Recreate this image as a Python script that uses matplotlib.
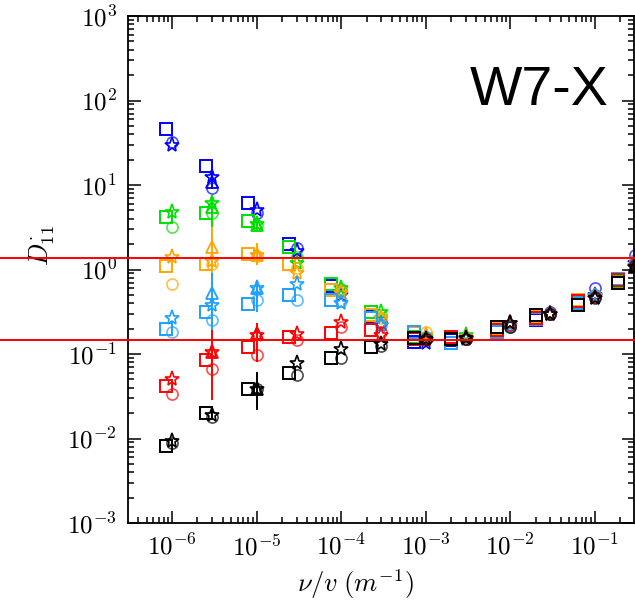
import math
import matplotlib
matplotlib.use("Agg")
from matplotlib import pyplot as plt
from matplotlib import transforms
from matplotlib.ticker import FuncFormatter, FixedLocator

plt.rcParams['mathtext.fontset'] = 'cm'

# collisionality grid (circles, stars, triangles) and shifted grid of the squares
nu = [1e-6, 3e-6, 1e-5, 3e-5, 1e-4, 3e-4, 1e-3, 3e-3, 1e-2, 3e-2, 1e-1, 3e-1]
nu_sq = [8.5e-7, 2.5e-6, 8e-6, 2.4e-5, 7.6e-5, 2.26e-4, 7.2e-4, 2e-3, 7e-3, 2e-2, 6.3e-2, 0.19]

series = ["blue", "green", "orange", "lightblue", "red", "black"]
colors = {"blue": "#0000ff", "green": "#00e000", "orange": "#ffa500",
          "lightblue": "#1ea0ff", "red": "#ff0000", "black": "#000000"}

sq = {
    "blue":      [46, 16.8, 6.1, 2.0, 0.63, 0.28, 0.14, 0.145, 0.18, 0.25, 0.40, 0.75],
    "green":     [4.2, 4.7, 3.75, 1.85, 0.68, 0.31, 0.16, 0.15, 0.19, 0.27, 0.40, 0.74],
    "orange":    [1.1, 1.16, 1.52, 1.17, 0.57, 0.29, 0.175, 0.15, 0.20, 0.28, 0.43, 0.78],
    "lightblue": [0.198, 0.31, 0.39, 0.50, 0.43, 0.27, 0.18, 0.135, 0.18, 0.26, 0.40, 0.78],
    "red":       [0.042, 0.085, 0.121, 0.159, 0.177, 0.19, 0.15, 0.16, 0.19, 0.27, 0.42, 0.76],
    "black":     [0.0081, 0.020, 0.0386, 0.0596, 0.090, 0.121, 0.155, 0.15, 0.21, 0.29, 0.38, 0.70],
}
circ = {
    "blue":      [32, 9.2, 4.7, 1.8, 0.55, 0.24, 0.15, 0.15, 0.22, 0.31, 0.60, 1.49],
    "green":     [3.2, 4.7, 3.4, 1.4, 0.58, 0.29, 0.16, 0.15, 0.21, 0.30, 0.50, 1.2],
    "orange":    [0.67, 1.16, 1.45, 1.04, 0.55, 0.27, 0.18, 0.155, 0.21, 0.30, 0.50, 1.3],
    "lightblue": [0.18, 0.25, 0.43, 0.435, 0.42, 0.22, 0.16, 0.15, 0.21, 0.30, 0.50, 1.3],
    "red":       [0.034, 0.066, 0.097, 0.146, 0.21, 0.18, 0.15, 0.15, 0.22, 0.30, 0.47, 1.15],
    "black":     [0.0089, 0.018, 0.039, 0.057, 0.09, 0.125, 0.15, 0.15, 0.21, 0.30, 0.46, 1.1],
}
star = {
    "blue":      [30, 12.4, 5.1, 1.67, 0.50, 0.22, 0.135, 0.15, 0.23, 0.30, 0.50, 1.2],
    "green":     [4.8, 6.1, 3.5, 1.19, 0.60, 0.31, 0.16, 0.17, 0.23, 0.30, 0.48, 1.1],
    "orange":    [1.41, 1.25, 1.5, 0.91, 0.53, 0.27, 0.17, 0.16, 0.22, 0.30, 0.48, 1.1],
    "lightblue": [0.27, 0.38, 0.60, 0.67, 0.40, 0.22, 0.15, 0.15, 0.22, 0.30, 0.48, 1.1],
    "red":       [0.0506, 0.106, 0.166, 0.174, 0.24, 0.17, 0.147, 0.155, 0.23, 0.30, 0.46, 1.07],
    "black":     [0.0093, 0.019, 0.039, 0.078, 0.115, 0.13, 0.15, 0.155, 0.23, 0.30, 0.46, 1.07],
}
# triangles with error bars: x, y, lower end, upper end
tri_x = {
    "blue": [3e-6], "green": [3e-6, 1e-5], "orange": [3e-6, 1e-5],
    "lightblue": [3e-6, 1e-5], "red": [3e-6, 1e-5], "black": [1e-5, 3e-1],
}
tri_y = {
    "blue": [11], "green": [5.5, 3.4], "orange": [1.85, 1.5],
    "lightblue": [0.53, 0.60], "red": [0.106, 0.177], "black": [0.039, 1.1],
}
tri_lo = {
    "blue": [9], "green": [3.2, 2.9], "orange": [0.91, 1.13],
    "lightblue": [0.19, 0.31], "red": [0.0286, 0.080], "black": [0.0217, 0.9],
}
tri_hi = {
    "blue": [14], "green": [7.4, 4.0], "orange": [3.2, 2.06],
    "lightblue": [0.91, 0.75], "red": [0.19, 0.233], "black": [0.061, 1.35],
}

lines_y = [1.37, 0.147]

xmin, xmax = 10**-6.52, 10**-0.535
ymin, ymax = 1e-3, 1e3

fig = plt.figure(figsize=(6.35, 6.03), dpi=100)
ax = fig.add_axes([128/635, 1-523/603, 506/635, 507/603])
ax.set_xscale("log")
ax.set_yscale("log")

for s in series:
    c = colors[s]
    lo = [y - l for y, l in zip(tri_y[s], tri_lo[s])]
    hi = [h - y for y, h in zip(tri_y[s], tri_hi[s])]
    ax.errorbar(tri_x[s], tri_y[s], yerr=[lo, hi], fmt="^", ms=8, mfc="none",
                mec=c, mew=1.3, ecolor=c, elinewidth=1.4, capsize=0)
    ax.plot(nu, circ[s], "o", ms=8, mfc="none", mec=c, mew=1.2, alpha=0.7)
    ax.plot(nu, star[s], "*", ms=11, mfc="none", mec=c, mew=1.2)
    ax.plot(nu_sq, sq[s], "s", ms=8.5, mfc="none", mec=c, mew=1.4)

ax.set_xlim(xmin, xmax)
ax.set_ylim(ymin, ymax)

# red reference levels drawn across the whole figure width
trans = transforms.blended_transform_factory(fig.transFigure, ax.transData)
for y in lines_y:
    ax.plot([0, 1], [y, y], color="red", lw=1.4, transform=trans, clip_on=False, zorder=5)

def decade_ticks(lo, hi):
    major = [10.0**k for k in range(-8, 4) if lo <= 10.0**k <= hi]
    minor = [m * 10.0**k for k in range(-8, 4) for m in range(2, 10)
             if lo <= m * 10.0**k <= hi]
    return major, minor

fmt = FuncFormatter(lambda v, p: r"$10^{%d}$" % round(math.log10(v)))
xmaj, xmin_t = decade_ticks(xmin, xmax)
ymaj, ymin_t = decade_ticks(ymin, ymax)
ax.xaxis.set_major_locator(FixedLocator(xmaj))
ax.xaxis.set_minor_locator(FixedLocator(xmin_t))
ax.yaxis.set_major_locator(FixedLocator(ymaj))
ax.yaxis.set_minor_locator(FixedLocator(ymin_t))
ax.xaxis.set_major_formatter(fmt)
ax.yaxis.set_major_formatter(fmt)
ax.xaxis.set_minor_formatter(FuncFormatter(lambda v, p: ""))
ax.yaxis.set_minor_formatter(FuncFormatter(lambda v, p: ""))
ax.tick_params(which="both", direction="in", top=True, right=True, width=1.1)
ax.tick_params(which="major", length=9, labelsize=18, pad=8)
ax.tick_params(which="minor", length=4.5)
for sp in ax.spines.values():
    sp.set_linewidth(1.3)

ax.set_xlabel(r"$\nu/v\ (m^{-1})$", fontsize=19)
ax.xaxis.set_label_coords(0.449, -0.088)
ax.set_ylabel(r"$D_{11}^{\cdot}$", fontsize=19)
ax.yaxis.set_label_coords(-0.14, 0.548)

ax.text(0.949, 0.824, "W7-X", transform=ax.transAxes, ha="right", va="baseline",
        fontsize=40, family="Liberation Sans")

plt.savefig("out.png", dpi=100)
